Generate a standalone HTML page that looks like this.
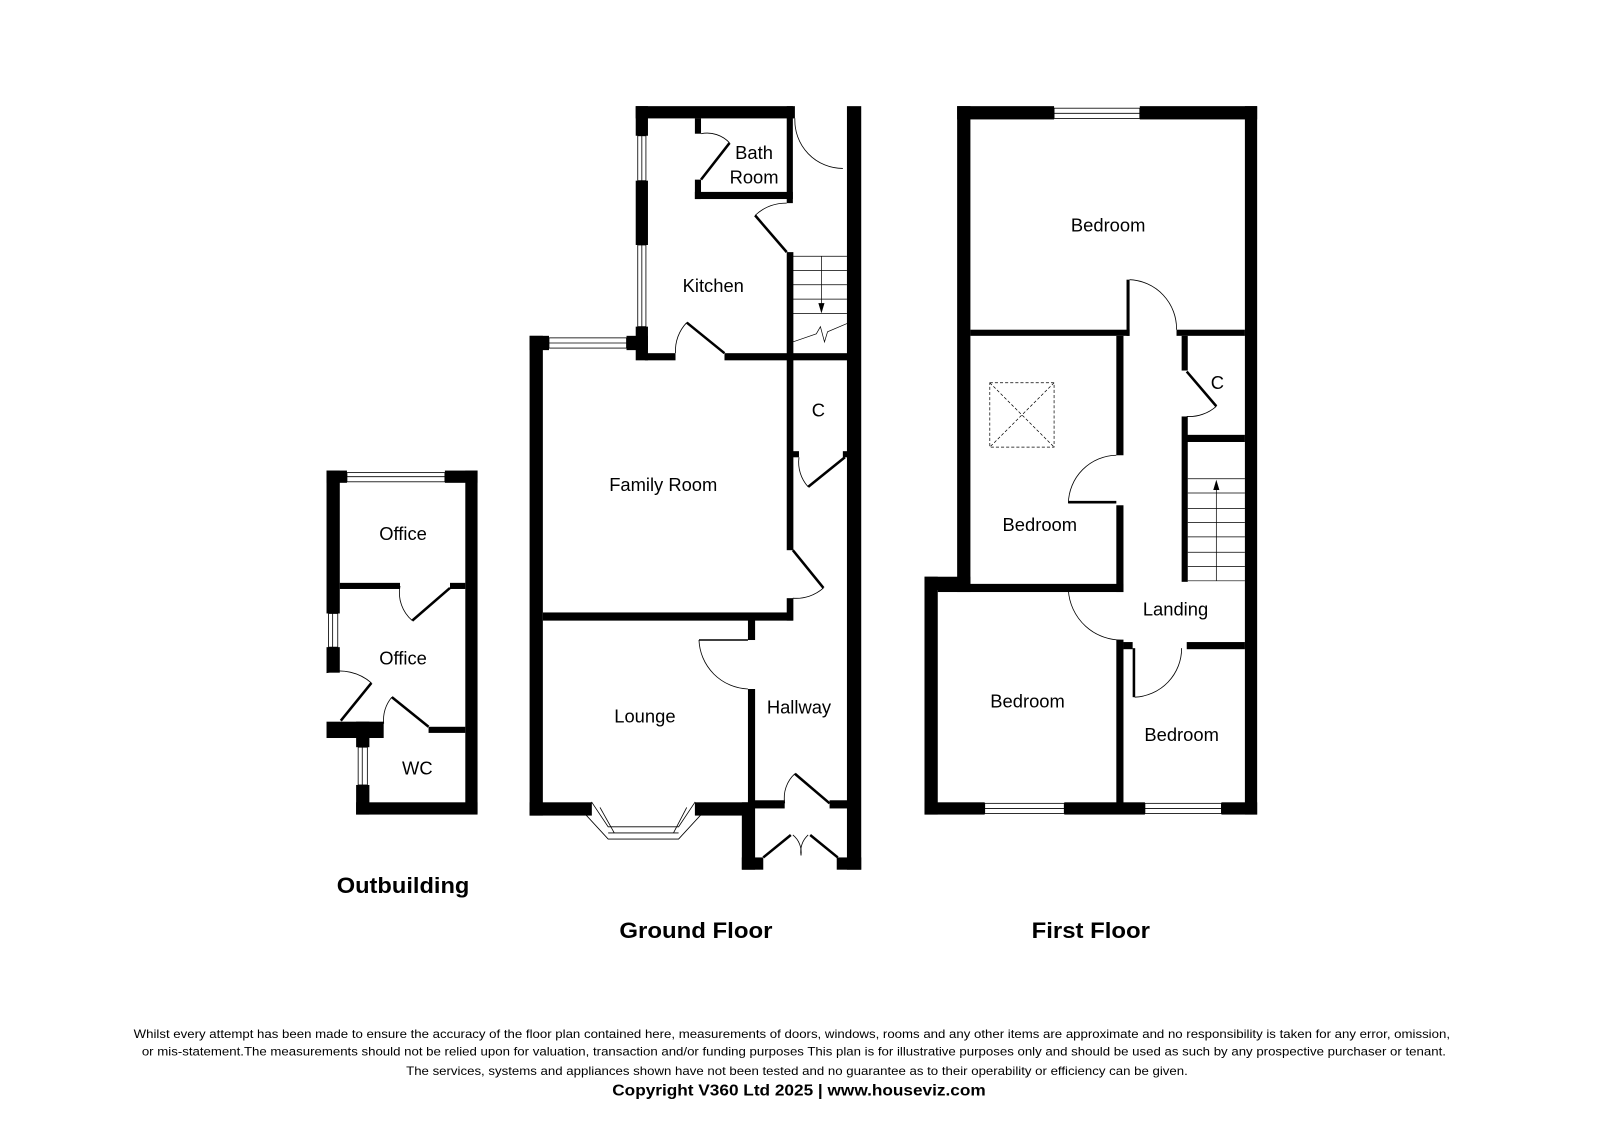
<!DOCTYPE html>
<html><head><meta charset="utf-8"><style>
html,body{margin:0;padding:0;background:#fff;}
svg{display:block;}
text{font-family:"Liberation Sans",Arial,sans-serif;fill:#000;}
</style></head><body>
<svg width="1600" height="1131" viewBox="0 0 1568 1108" preserveAspectRatio="none" xmlns="http://www.w3.org/2000/svg">
<rect width="1568" height="1108" fill="#fff"/>
<g fill="#000">
<!-- GROUND FLOOR -->
<rect x="519" y="329" width="13" height="470"/>
<rect x="519" y="329" width="19" height="14"/>
<rect x="614" y="329" width="21" height="14"/>
<rect x="623" y="104" width="12" height="29"/>
<rect x="623" y="177" width="12" height="63"/>
<rect x="623" y="320" width="12" height="33"/>
<rect x="623" y="104" width="156" height="12"/>
<rect x="681" y="116" width="6" height="15"/>
<rect x="681" y="176" width="6" height="19"/>
<rect x="681" y="188" width="96" height="7"/>
<rect x="771" y="104" width="6" height="95"/>
<rect x="830" y="104" width="14" height="748"/>
<rect x="632" y="346" width="30" height="7"/>
<rect x="710" y="346" width="123" height="7"/>
<rect x="771" y="247" width="6.5" height="292"/>
<rect x="777" y="442" width="6" height="6"/>
<rect x="826" y="442" width="6" height="6"/>
<rect x="771" y="586" width="6.5" height="22"/>
<rect x="532" y="600" width="245" height="8"/>
<rect x="733" y="607" width="7" height="20"/>
<rect x="733" y="675" width="7" height="115"/>
<rect x="519" y="786" width="61" height="13"/>
<rect x="681" y="786" width="52" height="13"/>
<rect x="727" y="786" width="13" height="66"/>
<rect x="733" y="784" width="36" height="8"/>
<rect x="813" y="784" width="20" height="8"/>
<rect x="727" y="840" width="21" height="12"/>
<rect x="820" y="840" width="24" height="12"/>
<!-- FIRST FLOOR -->
<rect x="938" y="104" width="95" height="13"/>
<rect x="1117" y="104" width="115" height="13"/>
<rect x="938" y="104" width="13" height="476"/>
<rect x="1220" y="104" width="12" height="694"/>
<rect x="906" y="565" width="45" height="13"/>
<rect x="906" y="565" width="13" height="233"/>
<rect x="906" y="786" width="59" height="12"/>
<rect x="1043" y="786" width="79" height="12"/>
<rect x="1197" y="786" width="35" height="12"/>
<rect x="951" y="323" width="156" height="6"/>
<rect x="1104" y="274" width="3" height="55"/>
<rect x="1153" y="323" width="67" height="6"/>
<rect x="1094" y="329" width="7" height="117"/>
<rect x="1094" y="495" width="7" height="85"/>
<rect x="919" y="572" width="182" height="8"/>
<rect x="1158" y="329" width="6" height="34"/>
<rect x="1158" y="408" width="6" height="162"/>
<rect x="1163" y="426" width="57" height="7"/>
<rect x="1163" y="629" width="57" height="7"/>
<rect x="1094" y="627" width="7" height="165"/>
<rect x="1101" y="629" width="9" height="7"/>
<rect x="1110" y="635" width="2.5" height="48"/>
<!-- OUTBUILDING -->
<rect x="320" y="461" width="20" height="12"/>
<rect x="436" y="461" width="32" height="12"/>
<rect x="320" y="461" width="13" height="140"/>
<rect x="320" y="634" width="13" height="25"/>
<rect x="456" y="461" width="12" height="336"/>
<rect x="320" y="707" width="56" height="16"/>
<rect x="349" y="707" width="13" height="25"/>
<rect x="349" y="769" width="13" height="29"/>
<rect x="349" y="786" width="119" height="12"/>
<rect x="333" y="571" width="59" height="6"/>
<rect x="441" y="571" width="15" height="6"/>
<rect x="420" y="712" width="36" height="6"/>
</g>
<g fill="none" stroke="#000" stroke-width="0.8">
<!-- windows ground -->
<rect x="538" y="331" width="76" height="10"/><line x1="538" y1="336" x2="614" y2="336"/>
<rect x="625" y="133" width="8" height="44"/><line x1="629" y1="133" x2="629" y2="177"/>
<rect x="625" y="240" width="8" height="80"/><line x1="629" y1="240" x2="629" y2="320"/>
<polygon points="580,786 596,810 665,810 681,786 688,797 665,822 596,822 573,797"/>
<line x1="588" y1="791" x2="602" y2="816"/><line x1="596" y1="816" x2="665" y2="816"/><line x1="673" y1="791" x2="660" y2="816"/>
<!-- stairs ground -->
<g stroke-width="0.7"><line x1="777" y1="251" x2="830" y2="251"/><line x1="777" y1="265" x2="830" y2="265"/><line x1="777" y1="279" x2="830" y2="279"/><line x1="777" y1="293" x2="830" y2="293"/><line x1="777" y1="307" x2="830" y2="307"/>
<line x1="805" y1="251" x2="805" y2="305"/>
<polyline points="777,335 800,327 804,320 808,335 811,325 830,317"/></g>
<!-- arcs ground -->
<path d="M779,116 A47,47 0 0 0 826,165"/>
<path d="M715,140 A30,30 0 0 0 687,131"/>
<path d="M740,211 A45,45 0 0 1 771,199"/>
<path d="M673,316 A40,40 0 0 0 662,346"/>
<path d="M792,477 A36,36 0 0 1 783,448"/>
<path d="M807,576 A40,40 0 0 1 777,586"/>
<path d="M685,627 A50,50 0 0 0 733,675"/>
<line x1="685" y1="627" x2="733" y2="627" stroke-width="1.5"/>
<path d="M779,758 A32,32 0 0 0 769,787"/>
<path d="M777,818 A22,22 0 0 1 785,838"/>
<path d="M792,818 A22,22 0 0 0 785,838"/>
<!-- first floor windows -->
<rect x="1033" y="106" width="84" height="10"/><line x1="1033" y1="111" x2="1117" y2="111"/>
<rect x="965" y="787" width="78" height="10"/><line x1="965" y1="792" x2="1043" y2="792"/>
<rect x="1122" y="787" width="75" height="10"/><line x1="1122" y1="792" x2="1197" y2="792"/>
<!-- first floor arcs -->
<path d="M1107,274 A48,48 0 0 1 1153,323"/>
<path d="M1094,446 A48,48 0 0 0 1047,493"/>
<path d="M1047,578 A52,52 0 0 0 1101,627"/>
<path d="M1112,683 A48,48 0 0 0 1158,635"/>
<path d="M1192,398 A40,40 0 0 1 1163,408"/>
<g stroke-width="0.7">
<line x1="1164" y1="469" x2="1220" y2="469"/><line x1="1164" y1="483" x2="1220" y2="483"/><line x1="1164" y1="498" x2="1220" y2="498"/><line x1="1164" y1="512" x2="1220" y2="512"/><line x1="1164" y1="526" x2="1220" y2="526"/><line x1="1164" y1="541" x2="1220" y2="541"/><line x1="1164" y1="555" x2="1220" y2="555"/><line x1="1164" y1="569" x2="1220" y2="569"/>
<line x1="1192" y1="474" x2="1192" y2="569"/></g>
<g stroke-dasharray="3,2" stroke-width="0.7"><rect x="970" y="375" width="63" height="63"/><line x1="970" y1="375" x2="1033" y2="438"/><line x1="1033" y1="375" x2="970" y2="438"/></g>
<!-- outbuilding windows & arcs -->
<rect x="340" y="463" width="96" height="9"/><line x1="340" y1="467" x2="436" y2="467"/>
<rect x="322" y="601" width="9" height="33"/><line x1="326" y1="601" x2="326" y2="634"/>
<rect x="351" y="732" width="9" height="37"/><line x1="355" y1="732" x2="355" y2="769"/>
<path d="M392,574 A36,36 0 0 0 404,608"/>
<path d="M320,659 A48,48 0 0 1 364,669"/>
<path d="M384,683 A36,36 0 0 0 376,709"/>
</g>
<g stroke="#000" stroke-width="2.5" fill="none">
<line x1="687" y1="176" x2="715" y2="140"/>
<line x1="740" y1="211" x2="771" y2="247"/>
<line x1="673" y1="316" x2="710" y2="346"/>
<line x1="828" y1="448" x2="792" y2="477"/>
<line x1="777" y1="539" x2="807" y2="576"/>
<line x1="779" y1="758" x2="813" y2="787"/>
<line x1="748" y1="840" x2="775" y2="818"/>
<line x1="794" y1="818" x2="821" y2="840"/>
<line x1="1163" y1="364" x2="1192" y2="398"/>
<line x1="1047" y1="492" x2="1094" y2="492"/>
<line x1="1047" y1="578" x2="1094" y2="578"/>
<line x1="404" y1="608" x2="441" y2="576"/>
<line x1="364" y1="669" x2="334" y2="706"/>
<line x1="384" y1="683" x2="420" y2="712"/>
</g>
<polygon points="802,297 808,297 805,307" fill="#000"/>
<polygon points="1189,480 1195,480 1192,470" fill="#000"/>
<g font-size="18" text-anchor="middle">
<text x="739" y="156">Bath</text>
<text x="739" y="180">Room</text>
<text x="699" y="286">Kitchen</text>
<text x="802" y="408">C</text>
<text x="650" y="481">Family Room</text>
<text x="632" y="708">Lounge</text>
<text x="783" y="699">Hallway</text>
<text x="1086" y="227">Bedroom</text>
<text x="1193" y="381">C</text>
<text x="1019" y="520">Bedroom</text>
<text x="1152" y="603">Landing</text>
<text x="1007" y="693">Bedroom</text>
<text x="1158" y="726">Bedroom</text>
<text x="395" y="529">Office</text>
<text x="395" y="651">Office</text>
<text x="409" y="759">WC</text>
</g>
<g font-size="22" font-weight="bold">
<text x="330" y="875" textLength="130" lengthAdjust="spacingAndGlyphs">Outbuilding</text>
<text x="607" y="919" textLength="150" lengthAdjust="spacingAndGlyphs">Ground Floor</text>
<text x="1011" y="919" textLength="116" lengthAdjust="spacingAndGlyphs">First Floor</text>
</g>
<g font-size="12" text-anchor="middle">
<text x="776" y="1017" textLength="1290" lengthAdjust="spacingAndGlyphs">Whilst every attempt has been made to ensure the accuracy of the floor plan contained here, measurements of doors, windows, rooms and any other items are approximate and no responsibility is taken for any error, omission,</text>
<text x="778" y="1034" textLength="1278" lengthAdjust="spacingAndGlyphs">or mis-statement.The measurements should not be relied upon for valuation, transaction and/or funding purposes This plan is for illustrative purposes only and should be used as such by any prospective purchaser or tenant.</text>
<text x="781" y="1053" textLength="766" lengthAdjust="spacingAndGlyphs">The services, systems and appliances shown have not been tested and no guarantee as to their operability or efficiency can be given.</text>
<text x="783" y="1073" font-size="15" font-weight="bold" textLength="366" lengthAdjust="spacingAndGlyphs">Copyright V360 Ltd 2025 | www.houseviz.com</text>
</g>
</svg>
</body></html>
